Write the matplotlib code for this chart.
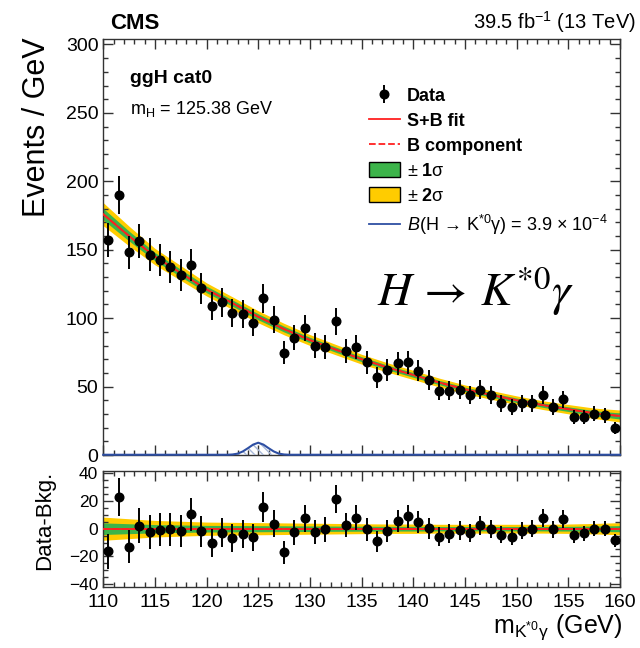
import numpy as np
import matplotlib
matplotlib.use("Agg")
import matplotlib.pyplot as plt
from matplotlib.lines import Line2D
from matplotlib.patches import Patch
from matplotlib.ticker import MultipleLocator

plt.rcParams['font.family'] = ['Liberation Sans', 'DejaVu Sans']
plt.rcParams['mathtext.fontset'] = 'custom'
plt.rcParams['mathtext.rm'] = 'Liberation Sans'
plt.rcParams['mathtext.it'] = 'Liberation Sans:italic'
plt.rcParams['mathtext.bf'] = 'Liberation Sans:bold'

# ---------------- data ----------------
bin_centers = [110.5 + i for i in range(50)]
data_counts = [157, 190, 148, 156.5, 146.5, 142.6, 137.7, 131.7, 138.8, 121.7,
               108.8, 111.7, 103.6, 102.9, 96.8, 114.6, 98.8, 74.8, 85.8, 92.7,
               80, 79, 97.8, 75.8, 79, 67.8, 56.8, 62, 67, 67.8,
               61.7, 54.9, 47, 47, 47.8, 43.9, 47.8, 43.9, 37.8, 34.9,
               37.8, 37.8, 43.9, 34.9, 40.7, 27.8, 27.8, 30, 29, 20]
residuals = [-16.3, 23, -12.9, 2.2, -2.4, -0.8, -0.5, -1.7, 10.4, -2,
             -10.4, -2.9, -6.8, -3.9, -6.1, 15.7, 3.6, -17.2, -2.7, 7.5,
             -2.4, -0.5, 21.6, 2.4, 8, -0.5, -9, -1.7, 5.6, 8.9,
             4.8, 0.2, -5.8, -3.6, -1.2, -2.9, 2.4, 0, -4.4, -5.8,
             -1.5, 0, 7.7, -0.5, 7, -4.9, -3.4, 0, 0, -8.5]

fit_x = [110, 112.5, 115, 117.5, 120, 122.5, 125, 127.5, 130, 132.5, 135,
         137.5, 140, 142.5, 145, 147.5, 150, 152.5, 155, 157.5, 160]
bkg_fit = [176, 160, 145, 133, 121, 111, 101, 92, 84, 77, 70,
           64, 58.5, 53, 48, 44, 40, 36.5, 33.5, 30.5, 28.5]
sigma1 = [4.2, 3.6, 3.0, 2.7, 2.4, 2.3, 2.2, 2.1, 2.0, 1.9, 1.8,
          1.7, 1.7, 1.6, 1.6, 1.6, 1.6, 1.6, 1.7, 1.9, 2.2]

sig_x = [110, 122, 122.5, 123, 123.5, 124, 124.5, 125, 125.5, 126, 126.5,
         127, 127.5, 128, 160]
sig_y = [0.2, 0.2, 0.4, 1.0, 2.6, 5.0, 7.6, 9.0, 7.6, 5.0, 2.6,
         1.0, 0.4, 0.2, 0.2]

# ---------------- figure ----------------
fig = plt.figure(figsize=(6.4, 6.48), dpi=100)
ax = fig.add_axes([0.1613, 0.2978, 0.8075, 0.6420])
axr = fig.add_axes([0.1613, 0.0946, 0.8075, 0.1790])

GREEN = '#3cb44a'
YELLOW = '#ffcc00'
RED = '#ff2020'
BLUE = '#2e4fa3'

fx = np.array(fit_x)
fb = np.array(bkg_fit)
s1 = np.array(sigma1)
x = np.array(bin_centers)
d = np.array(data_counts)
err = np.sqrt(d)

# main panel
ax.fill_between(fx, fb - 2 * s1, fb + 2 * s1, color=YELLOW, lw=0, zorder=1)
ax.fill_between(fx, fb - s1, fb + s1, color=GREEN, lw=0, zorder=2)
ax.plot(fx, fb, color=RED, ls='--', lw=1.3, zorder=3)
ax.plot(fx, fb, color=RED, ls='-', lw=1.3, zorder=3)
ax.fill_between(sig_x, 0, sig_y, facecolor='none', edgecolor='#a8b8d8',
                hatch='\\\\\\\\', lw=0, zorder=3)
ax.plot(sig_x, sig_y, color=BLUE, lw=1.5, zorder=4, clip_on=False)
eb = ax.errorbar(x, d, yerr=err, fmt='o', color='black', ms=6.2,
                 elinewidth=1.4, capsize=0, zorder=5)

ax.set_xlim(110, 160)
ax.set_ylim(0, 304)
ax.yaxis.set_major_locator(MultipleLocator(50))
ax.yaxis.set_minor_locator(MultipleLocator(10))
ax.xaxis.set_major_locator(MultipleLocator(5))
ax.xaxis.set_minor_locator(MultipleLocator(1))
ax.set_xticklabels([])

# residual panel
rr = np.array(residuals)
axr.fill_between(fx, -2 * s1, 2 * s1, color=YELLOW, lw=0, zorder=1)
axr.fill_between(fx, -s1, s1, color=GREEN, lw=0, zorder=2)
axr.plot(fx, np.zeros_like(fx), color=RED, ls='--', lw=1.3, zorder=3)
axr.plot(fx, np.zeros_like(fx), color=RED, ls='-', lw=1.3, zorder=3)
axr.errorbar(x, rr, yerr=err, fmt='o', color='black', ms=6.2,
             elinewidth=1.4, capsize=0, zorder=5)
axr.set_xlim(110, 160)
axr.set_ylim(-42, 42)
axr.yaxis.set_major_locator(MultipleLocator(20))
axr.yaxis.set_minor_locator(MultipleLocator(5))
axr.xaxis.set_major_locator(MultipleLocator(5))
axr.xaxis.set_minor_locator(MultipleLocator(1))

for a, fs in ((ax, 14), (axr, 12.5)):
    a.tick_params(which='both', direction='in', top=True, right=True,
                  labelsize=fs, width=1.0, color='#333333')
    a.tick_params(which='major', length=7)
    a.tick_params(which='minor', length=3.8)
    for sp in a.spines.values():
        sp.set_linewidth(1.0)
        sp.set_color('#333333')
axr.tick_params(axis='x', labelsize=14, pad=5)

# texts
fig.text(110 / 640, 1 - 29 / 648, 'CMS', fontsize=16, fontweight='bold',
         ha='left', va='baseline')
fig.text(636 / 640, 1 - 28.5 / 648, r'39.5 fb$^{-1}$ (13 TeV)', fontsize=14.5,
         ha='right', va='baseline')
fig.text(37 / 640, 1 - 37 / 648, 'Events / GeV', fontsize=22, rotation=90,
         ha='center', va='top')
fig.text(45 / 640, 1 - 520 / 648, 'Data-Bkg.', fontsize=16, rotation=90,
         ha='center', va='center')
fig.text(623 / 640, 1 - 633 / 648, 'm$_{\\mathrm{K^{*0}}}$$_{\\mathrm{γ}}$ (GeV)',
         fontsize=18, ha='right', va='baseline')

ax.text(0.052, 0.894, 'ggH cat0', transform=ax.transAxes, fontsize=14,
        fontweight='bold', ha='left', va='baseline')
ax.text(0.052, 0.82, r'm$_{\mathrm{H}}$ = 125.38 GeV', transform=ax.transAxes,
        fontsize=13, ha='left', va='baseline')
ax.text(0.530, 0.358, r'$H\,\rightarrow\,K^{*0}\gamma$', transform=ax.transAxes,
        fontsize=34, ha='left', va='baseline', math_fontfamily='stix')

handles = [eb,
           Line2D([], [], color=RED, lw=1.3),
           Line2D([], [], color=RED, lw=1.3, ls='--'),
           Patch(facecolor=GREEN, edgecolor='black', lw=1.0),
           Patch(facecolor=YELLOW, edgecolor='black', lw=1.0),
           Line2D([], [], color=BLUE, lw=1.3)]
labels = ['Data', 'S+B fit', 'B component', '± $\\mathbf{1}$σ',
          '± $\\mathbf{2}$σ',
          '$\\mathit{B}$(H → K$^{*0}$γ) = 3.9 × 10$^{-4}$']
leg = ax.legend(handles, labels, loc='upper left',
                bbox_to_anchor=(0.514, 0.885), frameon=False, fontsize=13,
                handlelength=1.7, handleheight=0.9, handletextpad=0.4,
                labelspacing=0.41, borderpad=0, borderaxespad=0)
for i in (0, 1, 2):
    leg.get_texts()[i].set_fontweight('bold')

fig.savefig('out.png', dpi=100)
